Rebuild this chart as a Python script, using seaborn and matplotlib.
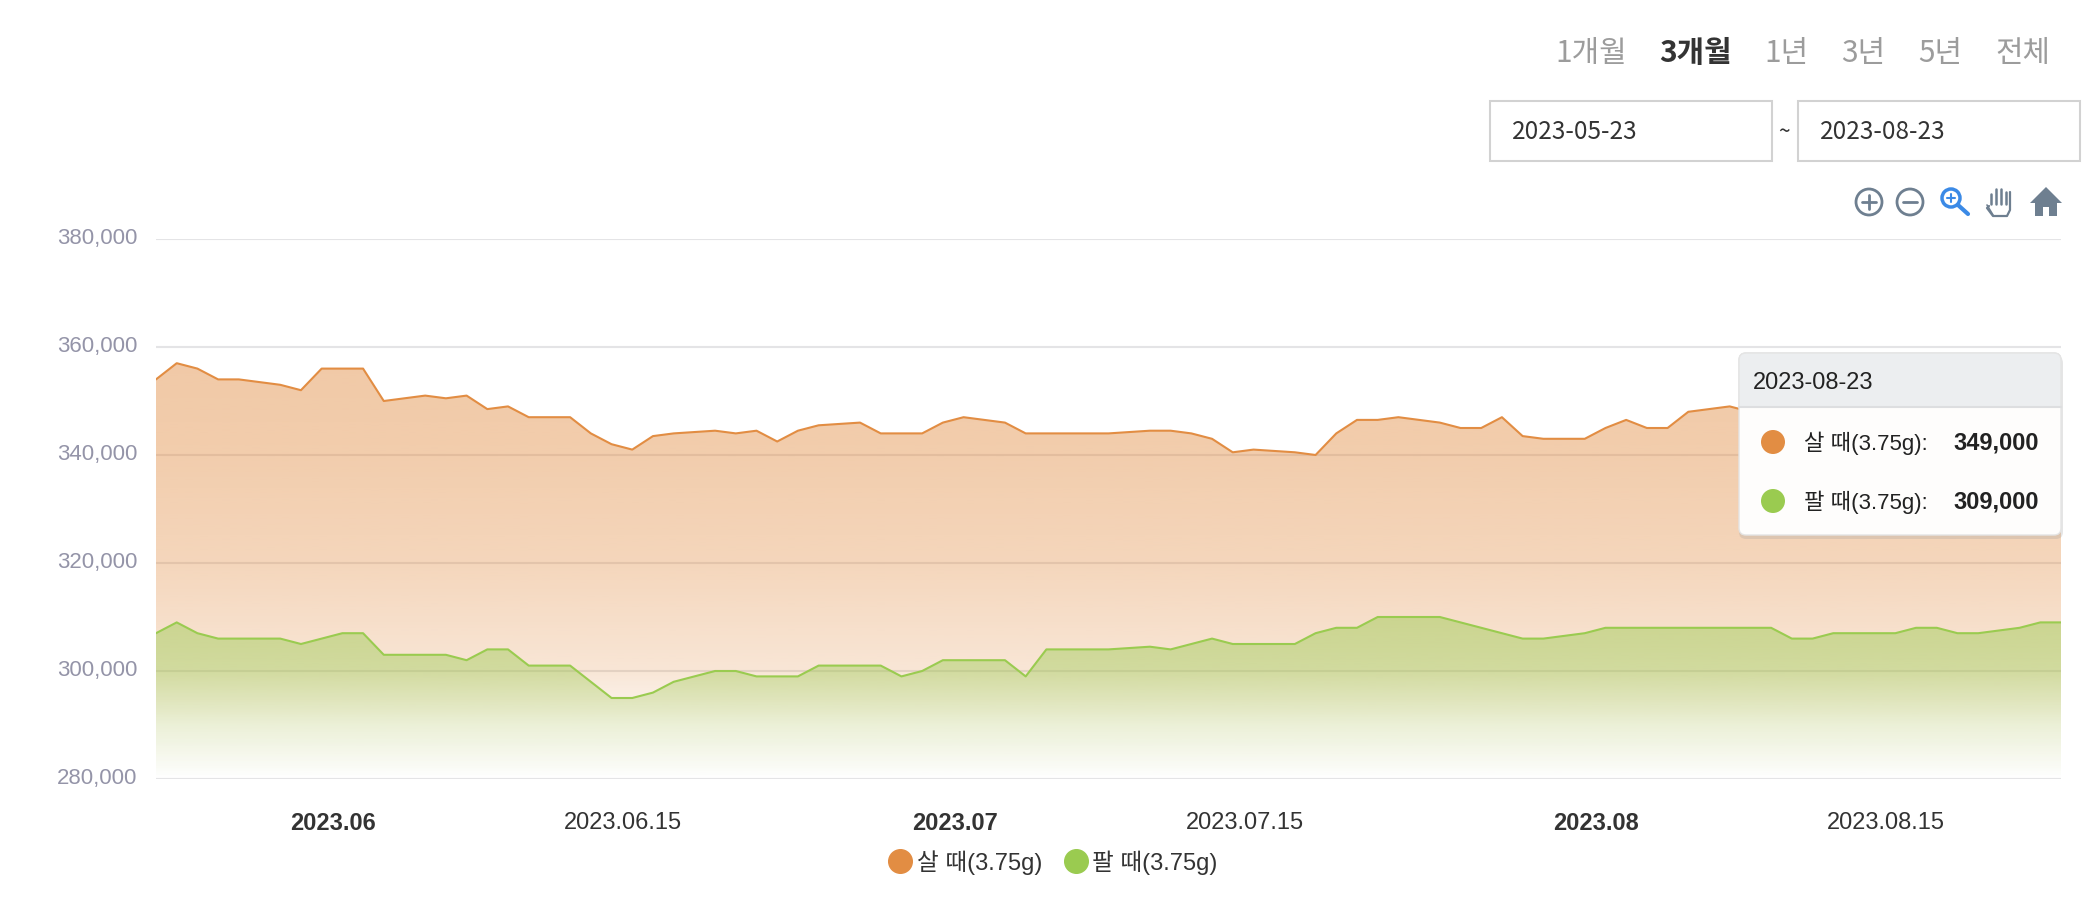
import numpy as np
import pandas as pd
import seaborn as sns
import matplotlib.pyplot as plt
from matplotlib.dates import date2num
from matplotlib.lines import Line2D
from matplotlib.patches import Circle, FancyBboxPatch, Polygon, Rectangle
from matplotlib.ticker import FuncFormatter
from matplotlib.transforms import ScaledTranslation

# Daily prices in thousand won, 2023-05-23 to 2023-08-23
# (buy values from 08-10 on sit behind the tooltip, so those are estimates)
start_date = "2023-05-23"
buy_prices = [
    354, 357, 356, 354, 354, 353.5, 353, 352, 356, 356, 356, 350, 350.5, 351, 350.5, 351,
    348.5, 349, 347, 347, 347, 344, 342, 341, 343.5, 344, 344.25, 344.5, 344, 344.5, 342.5,
    344.5, 345.5, 345.75, 346, 344, 344, 344, 346, 347, 346.5, 346, 344, 344, 344, 344, 344,
    344.25, 344.5, 344.5, 344, 343, 340.5, 341, 340.75, 340.5, 340, 344, 346.5, 346.5, 347,
    346.5, 346, 345, 345, 347, 343.5, 343, 343, 343, 345, 346.5, 345, 345, 348, 348.5, 349,
    348, 348, 346, 346, 347, 347, 347, 347, 348, 348, 347, 347, 347.5, 348, 349, 349,
]
sell_prices = [
    307, 309, 307, 306, 306, 306, 306, 305, 306, 307, 307, 303, 303, 303, 303, 302,
    304, 304, 301, 301, 301, 298, 295, 295, 296, 298, 299, 300, 300, 299, 299,
    299, 301, 301, 301, 301, 299, 300, 302, 302, 302, 302, 299, 304, 304, 304, 304,
    304.25, 304.5, 304, 305, 306, 305, 305, 305, 305, 307, 308, 308, 310, 310,
    310, 310, 309, 308, 307, 306, 306, 306.5, 307, 308, 308, 308, 308, 308, 308, 308,
    308, 308, 306, 306, 307, 307, 307, 307, 308, 308, 307, 307, 307.5, 308, 309, 309,
]
buy_label = "살 때(3.75g)"
sell_label = "팔 때(3.75g)"
y_ticks = [280000, 300000, 320000, 340000, 360000, 380000]
x_tick_dates = ["2023-06-01", "2023-06-15", "2023-07-01", "2023-07-15", "2023-08-01", "2023-08-15"]
x_tick_labels = ["2023.06", "2023.06.15", "2023.07", "2023.07.15", "2023.08", "2023.08.15"]
range_buttons = ["1개월", "3개월", "1년", "3년", "5년", "전체"]
range_from = "2023-05-23"
range_to = "2023-08-23"
tooltip_date = "2023-08-23"
tooltip_buy = "349,000"
tooltip_sell = "309,000"

ORANGE = "#E28D43"
GREEN = "#9ACB50"
ICON = "#6E7F90"
FONTS = ["Liberation Sans", "Noto Sans CJK KR"]
KR_FONTS = ["Noto Sans CJK KR", "Liberation Sans"]


def gradient_fill(ax, x, y, color, stops, alphas, y_min):
    # vertical alpha gradient cut to the area under the line
    rgba = np.zeros((256, 1, 4))
    rgba[:, :, :3] = plt.matplotlib.colors.to_rgb(color)
    rgba[:, 0, 3] = np.interp(np.linspace(1, 0, 256), stops, alphas)
    num = date2num(x)
    im = ax.imshow(rgba, aspect="auto", origin="upper", zorder=1, interpolation="bilinear",
                   extent=(num[0], num[-1], y_min, max(y)))
    area = ax.fill_between(x, y, y_min, facecolor="none", edgecolor="none")
    im.set_clip_path(area.get_paths()[0], transform=ax.transData)


if __name__ == "__main__":
    dates = pd.date_range(start_date, periods=len(buy_prices))
    df = pd.DataFrame({
        "date": list(dates) * 2,
        "price": [v * 1000 for v in buy_prices] + [v * 1000 for v in sell_prices],
        "kind": [buy_label] * len(dates) + [sell_label] * len(dates),
    })

    sns.set_theme(style="white")
    plt.rcParams["font.family"] = FONTS

    fig = plt.figure(figsize=(21, 9.04), dpi=100, facecolor="white")
    ax = fig.add_axes([156 / 2100, 1 - 780 / 904, (2061 - 156) / 2100, (780 - 240) / 904])

    gradient_fill(ax, dates, df[df["kind"] == buy_label]["price"].values, ORANGE,
                  [0, 0.13, 0.26, 0.52, 0.78, 1], [0, 0.06, 0.22, 0.36, 0.44, 0.47], 280000)
    gradient_fill(ax, dates, df[df["kind"] == sell_label]["price"].values, GREEN,
                  [0, 0.34, 0.69, 1], [0, 0.18, 0.42, 0.47], 280000)

    sns.lineplot(df, x="date", y="price", hue="kind", palette={buy_label: ORANGE, sell_label: GREEN},
                 linewidth=1.5, legend=False, ax=ax, zorder=3)

    ax.set_xlim(dates[0], dates[-1])
    ax.set_ylim(280000, 380000)
    ax.set_xlabel("")
    ax.set_ylabel("")
    for side in ax.spines:
        ax.spines[side].set_visible(False)

    ax.set_yticks(y_ticks)
    ax.yaxis.set_major_formatter(FuncFormatter(lambda v, _: f"{int(v):,}"))
    ax.grid(axis="y", color="#E4E4E6", linewidth=1.5, zorder=0.5)
    ax.set_axisbelow(True)
    ax.tick_params(axis="y", length=0, pad=13.5, labelsize=16, labelcolor="#9494A8")

    ax.set_xticks(pd.to_datetime(x_tick_dates))
    ax.set_xticklabels(x_tick_labels)
    ax.tick_params(axis="x", length=0, pad=23, labelsize=17, labelcolor="#333333")
    shift_x = ScaledTranslation(-9 / 100, 0, fig.dpi_scale_trans)
    for label, text in zip(ax.get_xticklabels(), x_tick_labels):
        label.set_transform(label.get_transform() + shift_x)
        if len(text) == 7:
            label.set_fontweight("bold")
    shift_y = ScaledTranslation(0, 4.5 / 100, fig.dpi_scale_trans)
    for label in ax.get_yticklabels():
        label.set_transform(label.get_transform() + shift_y)

    handles = [
        Line2D([], [], linestyle="", marker="o", markersize=17, color=ORANGE),
        Line2D([], [], linestyle="", marker="o", markersize=17, color=GREEN),
    ]
    fig.legend(handles, [buy_label, sell_label], loc="center", bbox_to_anchor=(1047 / 2100, 1 - 862.5 / 904),
               ncol=2, frameon=False, fontsize=17, handletextpad=-0.3, columnspacing=0.42,
               labelcolor="#333333")

    # everything around the chart, in pixel coordinates of the screenshot
    ui = fig.add_axes([0, 0, 1, 1], zorder=5)
    ui.set_xlim(0, 2100)
    ui.set_ylim(904, 0)
    ui.axis("off")

    # range buttons
    for text, cx in zip(range_buttons, [1591, 1695, 1786, 1863, 1940, 2023]):
        active = text == "3개월"
        ui.text(cx, 53, text, ha="center", va="center", fontsize=21.5, family=KR_FONTS,
                color="#333333" if active else "#9C9C9C", fontweight="bold" if active else "normal")

    # date inputs
    for x0, x1, text in [(1490, 1772, range_from), (1798, 2080, range_to)]:
        ui.add_patch(Rectangle((x0, 102), x1 - x0, 60, facecolor="white", edgecolor="#D2D2D2", linewidth=1.5))
        ui.text(x0 + 22, 132, text, ha="left", va="center", fontsize=17.5, family=KR_FONTS, color="#333333")
    ui.text(1784, 132, "~", ha="center", va="center", fontsize=15, family=KR_FONTS, color="#333333")

    # toolbar icons
    for cx, inner in [(1869, True), (1910, False)]:
        ui.add_patch(Circle((cx, 203), 13, facecolor="none", edgecolor=ICON, linewidth=2))
        ui.plot([cx - 7, cx + 7], [203, 203], color=ICON, lw=2)
        if inner:
            ui.plot([1869, 1869], [196, 210], color=ICON, lw=2)
    ui.add_patch(Circle((1951, 199), 9, facecolor="none", edgecolor="#3B8AE6", linewidth=2.5))
    ui.plot([1958, 1968], [206, 215], color="#3B8AE6", lw=3, solid_capstyle="round")
    ui.plot([1947, 1955], [199, 199], color="#3B8AE6", lw=1.5)
    ui.plot([1951, 1951], [195, 203], color="#3B8AE6", lw=1.5)
    # hand
    for fx, ftop in [(1991, 195), (1996, 190), (2001, 190), (2006, 193)]:
        ui.plot([fx, fx], [ftop, 205], color=ICON, lw=1.8, solid_capstyle="round")
    ui.plot([1989, 1987, 1993, 2007, 2010, 2010], [207, 209, 217, 217, 211, 193], color=ICON, lw=1.6)
    ui.plot([1987, 1993], [206, 216], color=ICON, lw=1.2)
    # home
    ui.add_patch(Polygon([(2046, 188), (2062, 204), (2057, 204), (2057, 217), (2049, 217), (2049, 208),
                          (2043, 208), (2043, 217), (2035, 217), (2035, 204), (2030, 204)],
                         closed=True, facecolor=ICON, edgecolor="none"))

    # tooltip
    box = dict(boxstyle="round,pad=0,rounding_size=7", mutation_aspect=1)
    ui.add_patch(FancyBboxPatch((1739, 357), 324, 183, facecolor="#9A9A9A", edgecolor="none", alpha=0.25, **box))
    ui.add_patch(FancyBboxPatch((1739, 354), 322, 182, facecolor="#FEFDFC", edgecolor="#E4E4E4", linewidth=1, **box))
    head = FancyBboxPatch((1739, 354), 322, 182, facecolor="#ECEEF0", edgecolor="#E4E4E4", linewidth=1, **box)
    ui.add_patch(head)
    head.set_clip_path(Rectangle((1730, 345), 340, 63, transform=ui.transData))
    ui.plot([1739, 2061], [408, 408], color="#DDDEE0", lw=1.5)
    ui.text(1753, 383, tooltip_date, ha="left", va="center", fontsize=17, color="#222222")
    for cy, color, label, value in [(443, ORANGE, buy_label, tooltip_buy), (502, GREEN, sell_label, tooltip_sell)]:
        ui.add_patch(Circle((1773, cy), 12, facecolor=color, edgecolor="none"))
        ui.text(1804, cy, label + ":", ha="left", va="center", fontsize=16, color="#222222")
        ui.text(2039, cy, value, ha="right", va="center", fontsize=17, fontweight="bold", color="#222222")

    plt.savefig("out.png", dpi=100, facecolor="white")
